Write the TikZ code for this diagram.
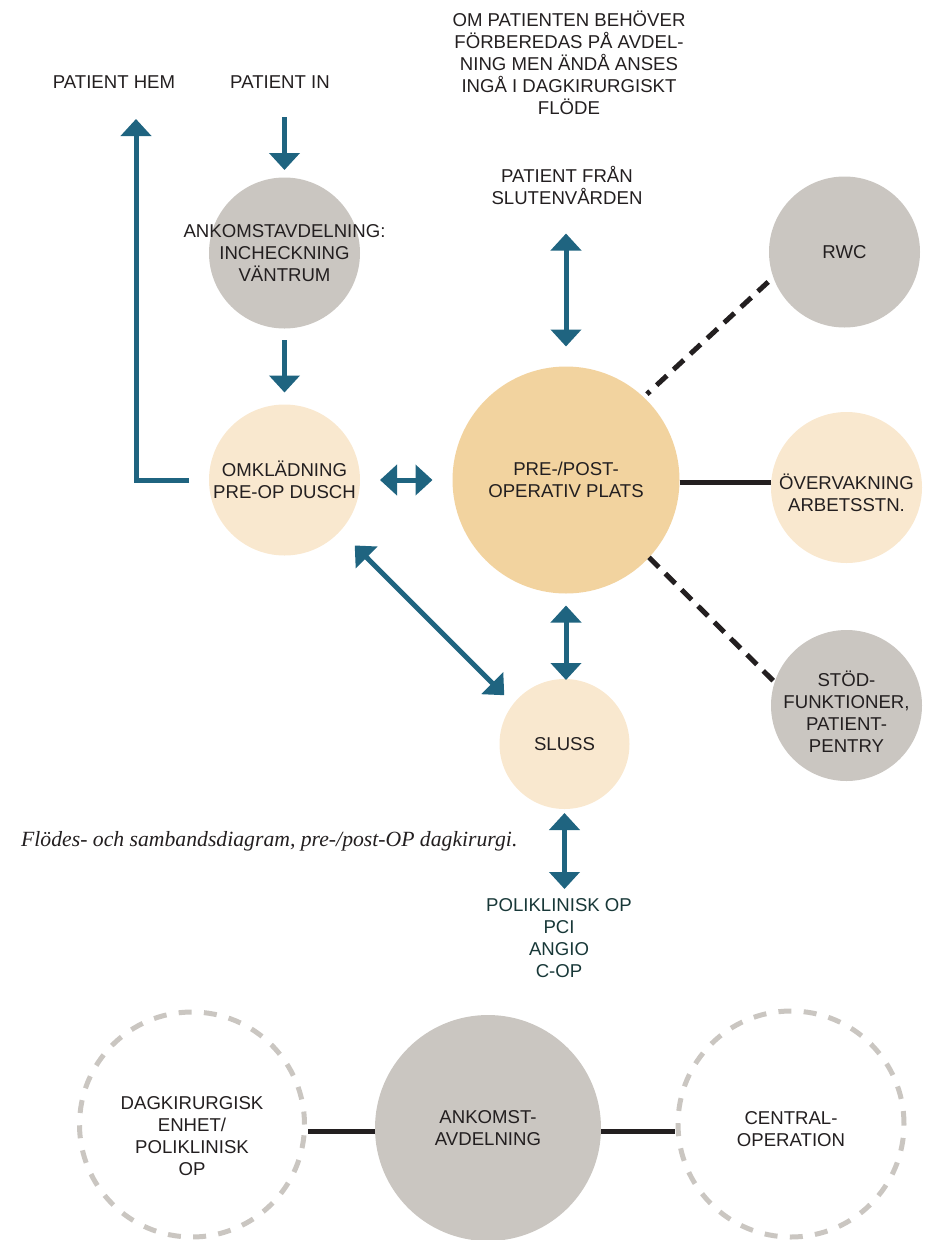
\documentclass[tikz,border=0pt]{standalone}
\usepackage{fontspec}
\setmainfont{Liberation Sans}
\newfontfamily\captionserif{Liberation Serif}
\usetikzlibrary{arrows.meta,calc}

\definecolor{flowteal}{RGB}{31,100,128}
\definecolor{stone}{RGB}{202,198,193}
\definecolor{cream}{RGB}{249,232,207}
\definecolor{peach}{RGB}{242,211,159}
\definecolor{ink}{RGB}{35,31,32}
\definecolor{deepteal}{RGB}{24,56,56}

\tikzset{
  lbl/.style={font=\fontsize{18.6pt}{22pt}\selectfont, text=ink, align=center, inner sep=0pt},
  disc/.style={circle, inner sep=0pt, outer sep=0pt, minimum size=#1, lbl},
  greydisc/.style={disc=#1, fill=stone},
  creamdisc/.style={disc=#1, fill=cream},
  peachdisc/.style={disc=#1, fill=peach},
  ring/.style={disc=#1, draw=stone, line width=5pt, dash pattern=on 13pt off 12.3pt},
  flow/.style={color=flowteal, line width=5pt, line join=miter,
    -{Triangle[width=30pt,length=17pt]}},
  flowboth/.style={color=flowteal, line width=5pt,
    {Triangle[width=30pt,length=17pt]}-{Triangle[width=30pt,length=17pt]}},
  link/.style={draw=ink, line width=5pt},
  dashlink/.style={link, dash pattern=on 14pt off 9pt},
}

\begin{document}
\begin{tikzpicture}[x=1pt, y=1pt]
  \useasboundingbox (0,0) rectangle (926,-1240);

  % free labels
  \node[lbl] (hem) at (114,-82) {PATIENT HEM};
  \node[lbl] (pin) at (280,-82) {PATIENT IN};
  \node[lbl] (note) at (569,-63) {OM PATIENTEN BEHÖVER\\FÖRBEREDAS PÅ AVDEL-\\NING MEN ÄNDÅ ANSES\\INGÅ I DAGKIRURGISKT\\FLÖDE};
  \node[lbl] (slut) at (567,-185) {PATIENT FRÅN\\SLUTENVÅRDEN};
  \coordinate (hemtip) at (136,-119);

  % flow stations
  \node[greydisc=151pt, label={[lbl]center:{ANKOMSTAVDELNING:\\INCHECKNING\\VÄNTRUM}}] (ank) at (284.5,-253) {};
  \node[creamdisc=151pt] (omkl) at (284.5,-480) {OMKLÄDNING\\PRE-OP DUSCH};
  \node[peachdisc=227pt] (pre) at (566,-480) {PRE-/POST-\\OPERATIV PLATS};
  \node[greydisc=151pt] (rwc) at (844.5,-252) {RWC};
  \node[creamdisc=151pt, label={[lbl,yshift=-5pt]center:{ÖVERVAKNING\\ARBETSSTN.}}] (overv) at (846.5,-487.5) {};
  \node[greydisc=151pt, label={[lbl,yshift=-6pt]center:{STÖD-\\FUNKTIONER,\\PATIENT-\\PENTRY}}] (stod) at (846.5,-705.5) {};
  \node[creamdisc=130pt] (sluss) at (564.5,-744) {SLUSS};
  \node[lbl, text=deepteal] (poli) at (559,-938) {POLIKLINISK OP\\PCI\\ANGIO\\C-OP};

  \node[font=\captionserif\itshape\fontsize{21.7pt}{26pt}\selectfont, text=ink,
        anchor=base west, inner sep=0pt] (cap) at (21,-846)
        {Flödes- och sambandsdiagram, pre-/post-OP dagkirurgi.};

  % units overview
  \node[ring=225pt, label={[lbl,yshift=-11.5pt]center:{DAGKIRURGISK\\ENHET/\\POLIKLINISK\\OP}}] (dag) at (192,-1124.5) {};
  \node[greydisc=226pt] (ankb) at (488,-1128) {ANKOMST-\\AVDELNING};
  \node[ring=226pt, label={[lbl,yshift=-5pt]center:{CENTRAL-\\OPERATION}}] (central) at (791,-1124) {};

  % patient flow arrows
  \draw[flow] ([xshift=-20pt]omkl.west) -| (hemtip);
  \draw[flow] ([yshift=60.5pt]ank.north) -- ([yshift=7.5pt]ank.north);
  \draw[flow] ([yshift=-11.5pt]ank.south) -- ([yshift=12pt]omkl.north);
  \draw[flowboth] ([xshift=20pt]omkl.east) -- ([xshift=-20pt]pre.west);
  \draw[flowboth] ([yshift=20pt]pre.north) -- ([yshift=133pt]pre.north);
  \draw[flowboth] ($(pre.south)+(0,-12)$) -- ($(pre.south |- sluss.north)+(0,-1)$);
  \draw[flowboth] ($(omkl)+(-43:96)$) -- ($(sluss)+(141:77.5)$);
  \draw[flowboth] ($(sluss.south)+(0,-4)$) -- ($(sluss.south)+(0,-80)$);

  % relations of the post-op place
  \draw[dashlink] ($(rwc)+(201.4:82)$) -- ($(pre)+(46.7:118)$);
  \draw[link] ($(pre.east)+(0,-2)$) -- ($(pre.east -| overv.west)+(0,-2)$);
  \draw[dashlink] (pre.-43.6) -- (stod.162.8);

  % relations of the arrival unit
  \draw[link] ($(dag.east |- ankb.west)+(3.5,-3)$) -- ($(ankb.west)+(0,-3)$);
  \draw[link] ($(ankb.east)+(0,-3)$) -- ($(ankb.east -| central.west)+(-3.5,-3)$);
\end{tikzpicture}
\end{document}
